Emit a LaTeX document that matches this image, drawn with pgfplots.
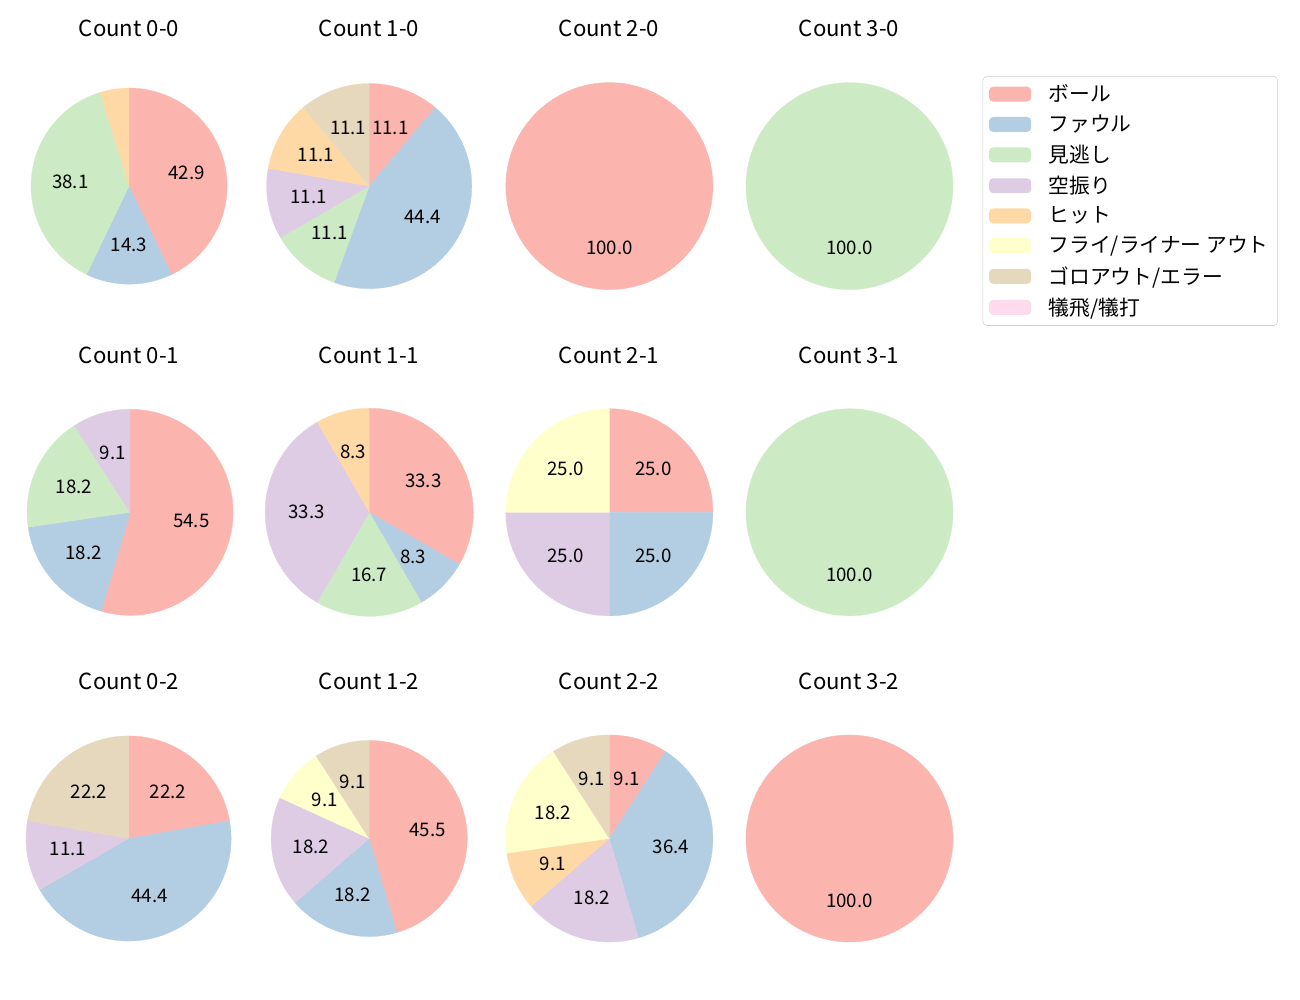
\documentclass[border=0pt]{standalone}
\usepackage{fontspec}
\setmainfont{Noto Sans CJK JP}
\usepackage{pgfplots}
\pgfplotsset{compat=1.18}

\definecolor{c1}{HTML}{FBB4AE}
\definecolor{c2}{HTML}{B3CDE3}
\definecolor{c3}{HTML}{CCEBC5}
\definecolor{c4}{HTML}{DECBE4}
\definecolor{c5}{HTML}{FED9A6}
\definecolor{c6}{HTML}{FFFFCC}
\definecolor{c7}{HTML}{E5D8BD}
\definecolor{c8}{HTML}{FDDAEC}

\newcommand\lf{\fontsize{13.5}{16}\selectfont}
\newcommand\tf{\fontsize{16}{19}\selectfont}
\newcommand\gf{\fontsize{15}{17}\selectfont}

% one pie: centre x, centre y (px, y down), radius (px), colour/percent list
\newcommand\pie[4]{%
  \gdef\tot{0}%
  \foreach \col/\val in {#4}{\pgfmathparse{\tot+\val}\global\let\tot\pgfmathresult}%
  \pgfmathsetlengthmacro\w{2.5*#3*0.7227pt}%
  \pgfmathsetlengthmacro\px{#1*0.7227pt}%
  \pgfmathsetlengthmacro\py{-#2*0.7227pt}%
  \begin{axis}[at={(\px,\py)}, anchor=center, hide axis, scale only axis,
    width=\w, height=\w, xmin=-1.25, xmax=1.25, ymin=-1.25, ymax=1.25, clip=false]
  \gdef\cum{0}%
  \foreach \col/\val in {#4}{%
    \pgfmathsetmacro\sa{90-(\cum/\tot)*360}%
    \pgfmathsetmacro\cumn{\cum+\val}%
    \pgfmathsetmacro\ea{90-(\cumn/\tot)*360}%
    \pgfmathsetmacro\lx{0.6*cos((\sa+\ea)/2)}%
    \pgfmathsetmacro\ly{0.6*sin((\sa+\ea)/2)}%
    \edef\tmp{\noexpand\addplot[fill=\col, draw=\col, line width=0.2pt,
      domain=\ea:\sa, samples=90] ({cos(x)},{sin(x)}) -- (axis cs:0,0) -- cycle;}\tmp
    \ifdim\val pt<5pt\else
      \edef\tmp{\noexpand\node[font=\noexpand\lf] at (axis cs:\lx,\ly) {\val};}\tmp
    \fi
    \global\let\cum\cumn
  }
  \end{axis}}

\begin{document}
\begin{tikzpicture}[x=0.01in, y=-0.01in]
\path[use as bounding box] (0,0) rectangle (1300,1000);

\pie{129}{186}{98}{c1/42.9, c2/14.3, c3/38.1, c5/4.8}
\pie{369}{186}{102.5}{c1/11.1, c2/44.4, c3/11.1, c4/11.1, c5/11.1, c7/11.1}
\pie{609}{186}{103.5}{c1/100.0}
\pie{849}{186}{103.5}{c3/100.0}

\pie{130}{512}{103}{c1/54.5, c2/18.2, c3/18.2, c4/9.1}
\pie{369}{512}{104}{c1/33.3, c2/8.3, c3/16.7, c4/33.3, c5/8.3}
\pie{609}{512}{103.5}{c1/25.0, c2/25.0, c4/25.0, c6/25.0}
\pie{849}{512}{103.5}{c3/100.0}

\pie{128.5}{838}{102.5}{c1/22.2, c2/44.4, c4/11.1, c7/22.2}
\pie{369}{838}{98}{c1/45.5, c2/18.2, c4/18.2, c6/9.1, c7/9.1}
\pie{609}{838}{103.5}{c1/9.1, c2/36.4, c4/18.2, c5/9.1, c6/18.2, c7/9.1}
\pie{849}{838}{103.5}{c1/100.0}

\foreach \x/\y/\t in {129/28/0-0, 369/28/1-0, 609/28/2-0, 849/28/3-0,
  129/355/0-1, 369/355/1-1, 609/355/2-1, 849/355/3-1,
  129/681/0-2, 369/681/1-2, 609/681/2-2, 849/681/3-2}
  \node[font=\tf] at (\x,\y) {Count \t};

\begin{axis}[at={(982*0.7227pt,-76*0.7227pt)}, anchor=north west, hide axis,
  scale only axis, width=10pt, height=10pt, xmin=0, xmax=1, ymin=0, ymax=1,
  legend style={at={(0,1)}, anchor=north west, draw=black!18, rounded corners=3pt,
    font=\gf, row sep=4.2pt, inner xsep=4.5pt, inner ysep=4pt,
    cells={anchor=west}},
  legend image code/.code={\fill[#1, draw=none] (0pt,-5.4pt) rectangle (30.4pt,5.4pt);
    \path[draw=none, fill=none] (0pt,0pt) -- (41pt,0pt);}]
\addlegendimage{fill=c1}\addlegendentry{ボール}
\addlegendimage{fill=c2}\addlegendentry{ファウル}
\addlegendimage{fill=c3}\addlegendentry{見逃し}
\addlegendimage{fill=c4}\addlegendentry{空振り}
\addlegendimage{fill=c5}\addlegendentry{ヒット}
\addlegendimage{fill=c6}\addlegendentry{フライ/ライナー アウト}
\addlegendimage{fill=c7}\addlegendentry{ゴロアウト/エラー}
\addlegendimage{fill=c8}\addlegendentry{犠飛/犠打}
\end{axis}
\end{tikzpicture}
\end{document}
